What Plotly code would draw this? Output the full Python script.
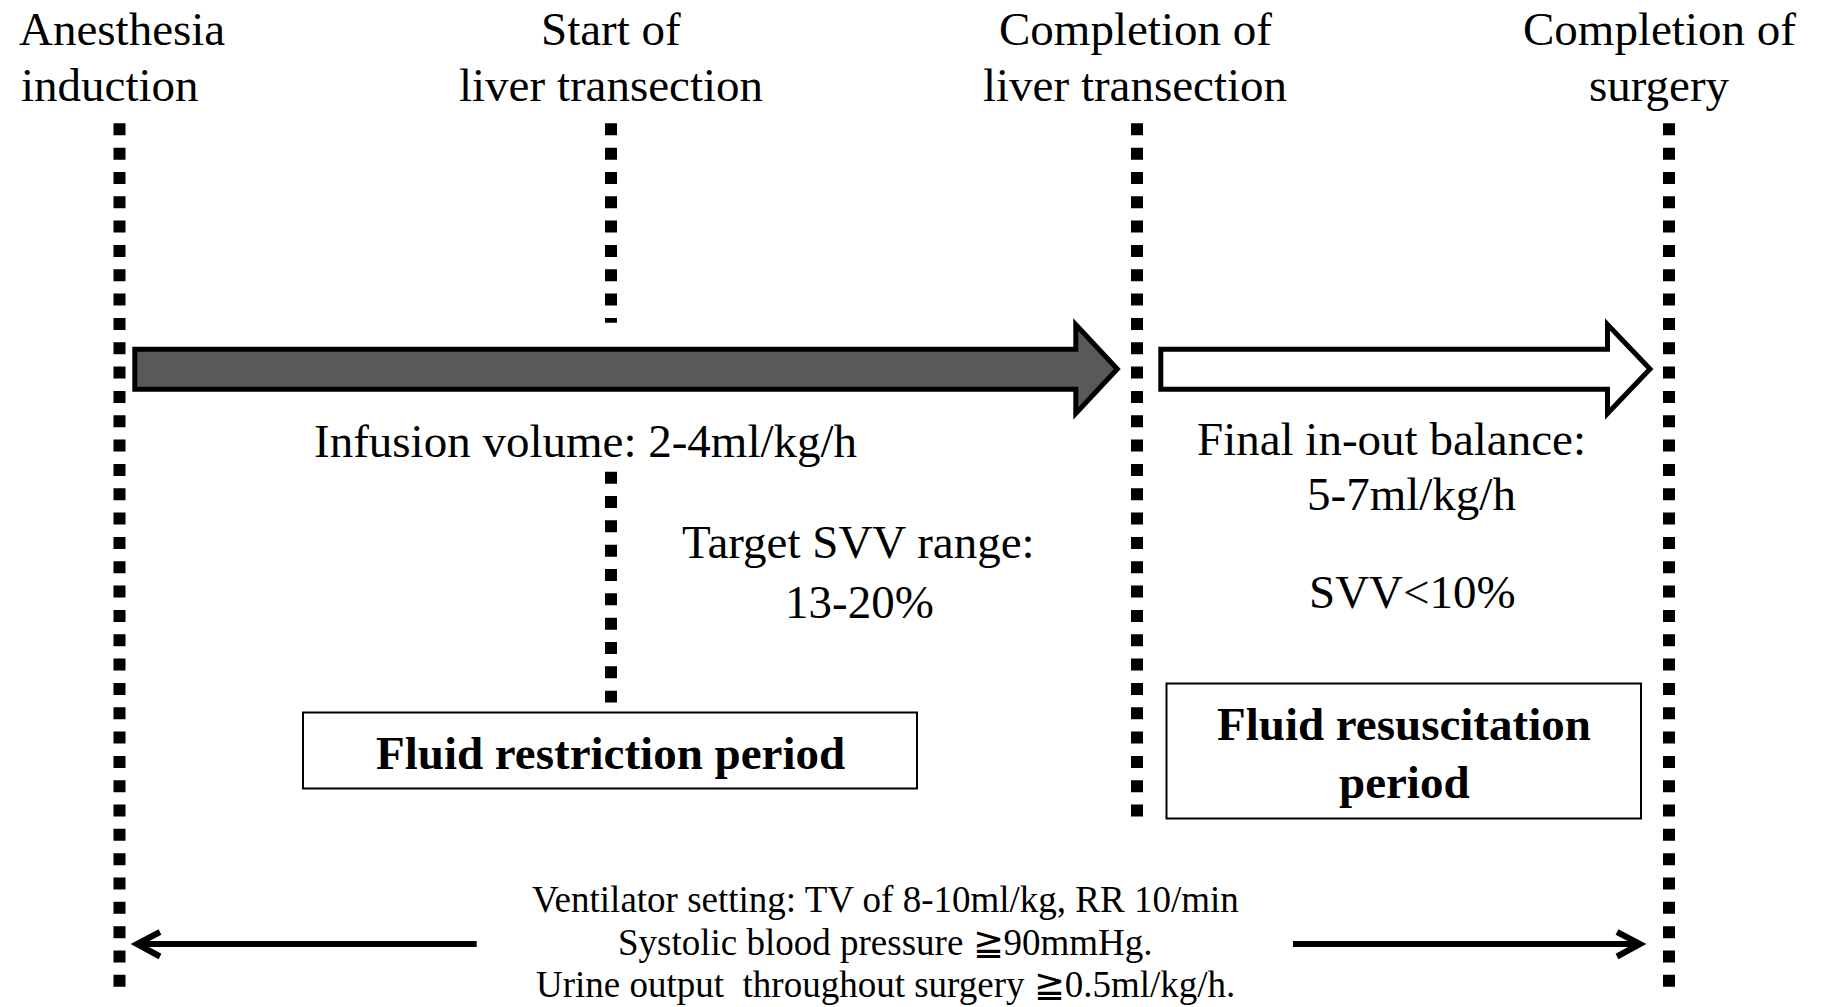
import plotly.graph_objects as go

# ---- content (timeline milestones, period texts) ----
milestones = ["Anesthesia induction", "Start of liver transection",
              "Completion of liver transection", "Completion of surgery"]
milestone_line1 = ["Anesthesia", "Start of", "Completion of", "Completion of"]
milestone_line2 = ["induction", "liver transection", "liver transection", "surgery"]
milestone_pos = [119.5, 611, 1137, 1669]          # timeline position of each milestone

restriction_texts = ["Infusion volume: 2-4ml/kg/h", "Target SVV range:", "13-20%"]
resuscitation_texts = ["Final in-out balance:", "5-7ml/kg/h", "SVV<10%"]
period_names = ["Fluid restriction period", "Fluid resuscitation", "period"]
bottom_texts = ["Ventilator setting: TV of 8-10ml/kg, RR 10/min",
                "Systolic blood pressure \u226790mmHg.",
                "Urine output\u00a0 throughout surgery \u22670.5ml/kg/h."]

W, H = 1821, 1007
FONT = "Liberation Serif, Times New Roman, serif"

fig = go.Figure()
shapes = []
annotations = []

# ---- dotted vertical milestone lines ----
dot = dict(color="black", width=12, dash="12px,12.33px")
seg = [
    (milestone_pos[0], 123.3, 999),
    (milestone_pos[1], 123.3, 322.7),
    (milestone_pos[1], 471.7, 702.4),
    (milestone_pos[2], 123.3, 816.5),
    (milestone_pos[3], 123.3, 999),
]
for x, y0, y1 in seg:
    shapes.append(dict(type="line", xref="x", yref="y", x0=x, x1=x, y0=y0, y1=y1, line=dot))

# ---- big block arrows ----
def block_arrow(x_start, x_base, x_tip, fill):
    yc = 369
    p = (f"M {x_start} 349.2 L {x_base} 349.2 L {x_base} 324.5 L {x_tip} {yc} "
         f"L {x_base} 413.5 L {x_base} 389.2 L {x_start} 389.2 Z")
    return dict(type="path", xref="x", yref="y", path=p, fillcolor=fill,
                line=dict(color="black", width=5), layer="above")

shapes.append(block_arrow(134.8, 1075.8, 1117.3, "#595959"))
shapes.append(block_arrow(1160.8, 1607.5, 1650, "white"))

# ---- period boxes ----
shapes.append(dict(type="rect", xref="x", yref="y", x0=303, x1=917, y0=712.5, y1=788.5,
                   line=dict(color="black", width=2), fillcolor="white"))
shapes.append(dict(type="rect", xref="x", yref="y", x0=1166.5, x1=1641, y0=683.5, y1=818.5,
                   line=dict(color="black", width=2), fillcolor="white"))

# ---- bottom thin arrows ----
ya = 944
shapes.append(dict(type="line", xref="x", yref="y", x0=476.7, x1=138, y0=ya, y1=ya,
                   line=dict(color="black", width=6)))
shapes.append(dict(type="path", xref="x", yref="y",
                   path=f"M 160 932 L 137 {ya} L 160 956.5",
                   line=dict(color="black", width=6)))
shapes.append(dict(type="line", xref="x", yref="y", x0=1293, x1=1639, y0=ya, y1=ya,
                   line=dict(color="black", width=6)))
shapes.append(dict(type="path", xref="x", yref="y",
                   path=f"M 1617 932 L 1640 {ya} L 1617 956.5",
                   line=dict(color="black", width=6)))

# ---- text ----
def txt(s, x, y, size=47, bold=False, xanchor="center"):
    annotations.append(dict(
        text=f"<b>{s}</b>" if bold else s, x=x, y=y, xref="x", yref="y",
        showarrow=False, xanchor=xanchor, yanchor="middle",
        font=dict(family=FONT, size=size, color="black")))

# milestone labels
txt(milestone_line1[0], 17, 29, xanchor="left")
txt(milestone_line2[0], 19, 85, xanchor="left")
for i in (1, 2, 3):
    cx = [None, 611, 1135, 1659][i]
    txt(milestone_line1[i], cx, 29)
    txt(milestone_line2[i], cx, 85)

txt(restriction_texts[0], 585, 441)
txt(restriction_texts[1], 858, 542)
txt(restriction_texts[2], 859, 602)
txt(resuscitation_texts[0], 1391, 439)
txt(resuscitation_texts[1], 1411, 494)
txt(resuscitation_texts[2], 1412, 592)

txt(period_names[0], 610, 753, bold=True)
txt(period_names[1], 1404, 724, bold=True)
txt(period_names[2], 1404, 782, bold=True)

for t, y in zip(bottom_texts, [899, 942, 984]):
    txt(t, 885, y, size=37)

fig.update_layout(
    width=W, height=H,
    margin=dict(l=0, r=0, t=0, b=0),
    paper_bgcolor="white", plot_bgcolor="white",
    xaxis=dict(range=[0, W], visible=False, fixedrange=True),
    yaxis=dict(range=[H, 0], visible=False, fixedrange=True),
    shapes=shapes, annotations=annotations,
    showlegend=False,
)

fig.write_html("out.html", config={"displayModeBar": False},
               post_script="document.body.style.margin='0';document.body.style.overflow='hidden';")
